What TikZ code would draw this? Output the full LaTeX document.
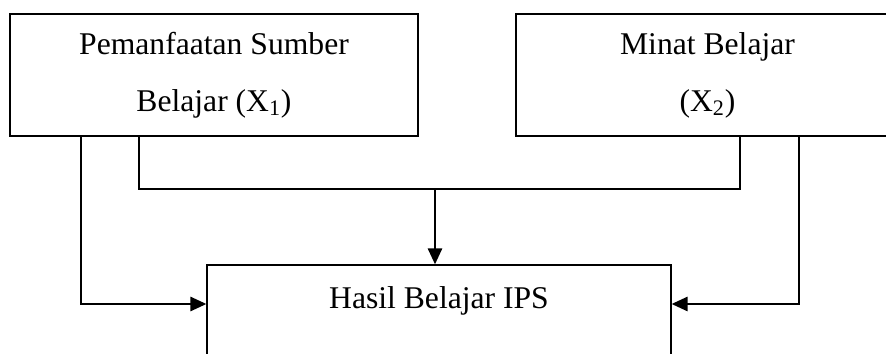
\documentclass[tikz,border=0pt]{standalone}
\usepackage{fontspec}
\setmainfont{Liberation Serif}
\usetikzlibrary{arrows.meta}
\usetikzlibrary{positioning}

\begin{document}
\begin{tikzpicture}[x=0.02cm,y=-0.02cm,
  box/.style={draw,line width=0.85pt,align=center,minimum height=2.44cm,
    font=\fontsize{18}{32.4}\selectfont},
  arr/.style={line width=0.85pt,-{Triangle[length=0.32cm,width=0.29cm]}}]
\clip (0,0) rectangle (886,354);

\node[box,minimum width=8.16cm] (sumber) at (214,75) {Pemanfaatan Sumber\\Belajar (X\textsubscript{1})};
\node[box,minimum width=7.66cm] (minat) at (707.5,75) {Minat Belajar\\(X\textsubscript{2})};
\node[box,minimum width=9.28cm] (hasil) at (439,326) {Hasil Belajar IPS\\\mbox{}};

% garis gabungan X1 dan X2
\coordinate (jn) at (435,189);
\draw[line width=0.85pt] (sumber.south -| 139,0) |- (jn) -| (minat.south -| 740,0);
\draw[arr] (jn) -- (jn |- hasil.north);

% pengaruh masing-masing
\draw[arr] (sumber.south -| 81,0) |- (hasil.west |- 0,304);
\draw[arr] (minat.south -| 799,0) |- (hasil.east |- 0,304);

\end{tikzpicture}
\end{document}
